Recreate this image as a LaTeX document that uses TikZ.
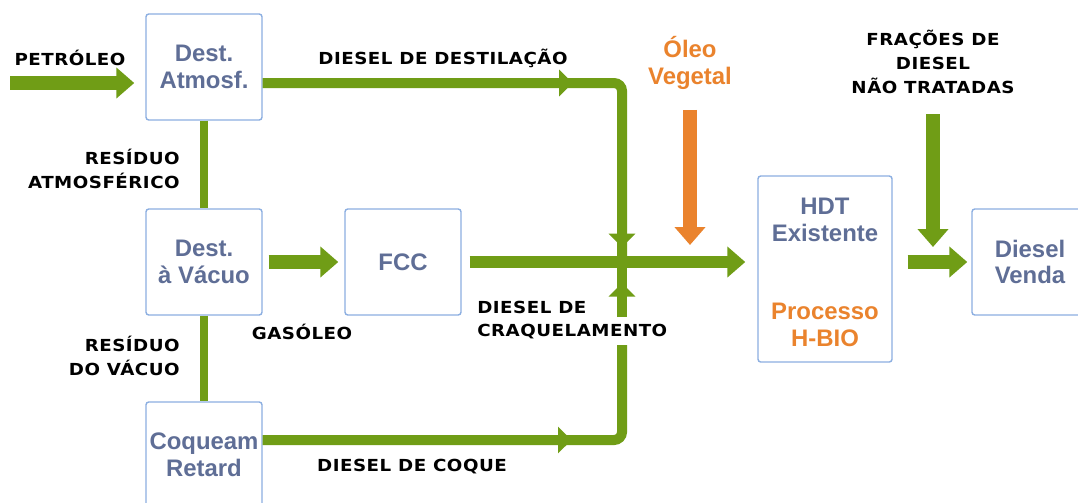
\documentclass[tikz,border=0pt]{standalone}
\usepackage{fontspec}
\setmainfont{Liberation Sans}
\newfontfamily\labelfont[FakeStretch=1.1,LetterSpace=3]{DejaVu Sans}
\usepackage{tikz}
\usetikzlibrary{arrows.meta, positioning, decorations.markings}
\definecolor{pipegreen}{RGB}{112,157,22}
\definecolor{oilorange}{RGB}{234,131,45}
\definecolor{unitblue}{RGB}{140,175,225}
\definecolor{unittext}{RGB}{95,110,150}
\tikzset{%
	pipetip/.tip={Triangle[width=0.65cm,length=0.34cm]},
	flowtip/.tip={Triangle[width=0.75cm,length=0.45cm]},
	unittxt/.style={align=center, inner sep=0pt, text=unittext,%
		font=\bfseries\fontsize{17}{19}\selectfont},
	unit/.style={unittxt, draw=unitblue, line width=1pt, rounded corners=2pt,%
		fill=white, minimum width=2.9cm, minimum height=2.65cm},
	lbl/.style={inner sep=0pt, font=\labelfont\bfseries\fontsize{11.8}{17}\selectfont},
	flow/.style={draw=pipegreen, line width=0.35cm, -{flowtip}},
	pipe/.style={draw=pipegreen, line width=0.25cm, rounded corners=0.2cm},
	tipat/.style={postaction={decorate, decoration={markings,%
		mark=at position #1 with {\arrow{pipetip}}}}}
}
\begin{document}
\begin{tikzpicture}[x=0.025cm, y=-0.025cm]
	\useasboundingbox (0,0) rectangle (1078,502);
	\fill[white] (0,0) rectangle (1078,502);

	% units
	\node[unit] (atm)   at (204,67)  {Dest.\\Atmosf.};
	\node[unit] (vac)   at (204,262) {Dest.\\à Vácuo};
	\node[unit] (coq)   at (204,455) {Coqueam\\Retard};
	\node[unit] (fcc)   at (403,262) {FCC};
	\node[unit, minimum width=3.35cm, minimum height=4.65cm] (hdt) at (825,269) {};
	\node[unittxt]                   (hdtup) at (825,220) {HDT\\Existente};
	\node[unittxt, text=oilorange]   (hbio)  at (825,325) {Processo\\H-BIO};
	\node[unit] (venda) at (1030,262) {Diesel\\Venda};

	% stream labels
	\node[lbl] (petroleo) at (70,58)  {PETRÓLEO};
	\node[lbl] (destil)   at (443,58) {DIESEL DE DESTILAÇÃO};
	\node[unittxt, text=oilorange] (oleo) at (690,63) {Óleo\\Vegetal};
	\node[lbl, align=center] (fracoes) at (933,62) {FRAÇÕES DE\\DIESEL\\NÃO TRATADAS};
	\node[lbl, align=right, anchor=east] (resatm) at (180,169) {RESÍDUO\\ATMOSFÉRICO};
	\node[lbl, align=right, anchor=east] (resvac) at (180,356) {RESÍDUO\\DO VÁCUO};
	\node[lbl] (gasoleo) at (302,332) {GASÓLEO};
	\node[lbl, align=left, anchor=west] (craq) at (477,320) {DIESEL DE\\CRAQUELAMENTO};
	\node[lbl] (coque) at (412,467) {DIESEL DE COQUE};

	\coordinate (crude)   at (10,83);
	\coordinate (jn)      at (622,264);
	\coordinate (craqlo)  at (622,345);
	\coordinate (craqhi)  at (622,317);
	\coordinate (oiltip)  at (690,245);
	\coordinate (fractip) at (933,247);

	% streams
	\draw[flow, shorten >=0.275cm] (crude) -- (crude -| atm.west);
	\draw[pipe, line width=0.22cm] (atm) -- (vac);
	\draw[pipe, line width=0.22cm] (vac) -- (coq);
	\draw[pipe, tipat=7.75cm, tipat=13cm] ([yshift=-0.4cm]atm.east) -| (jn);
	\draw[pipe, tipat=7.72cm] ([yshift=0.375cm]coq.east) -| (craqlo);
	\draw[pipe, tipat=0.85cm] (craqhi) -- (jn);
	\draw[flow, shorten <=0.15cm, shorten >=0.15cm] (vac) -- (fcc);
	\draw[flow, line width=0.3cm, shorten <=0.2cm, shorten >=0.3cm] (fcc.east) -- (fcc.east -| hdt.west);
	\draw[flow, draw=oilorange, shorten <=0.5cm] (oleo.south) -- (oiltip);
	\draw[flow, shorten <=0.5cm] (fracoes.south) -- (fractip);
	\draw[flow, shorten <=0.375cm, shorten >=0.1cm] (venda.west -| hdt.east) -- (venda.west);
\end{tikzpicture}
\end{document}
